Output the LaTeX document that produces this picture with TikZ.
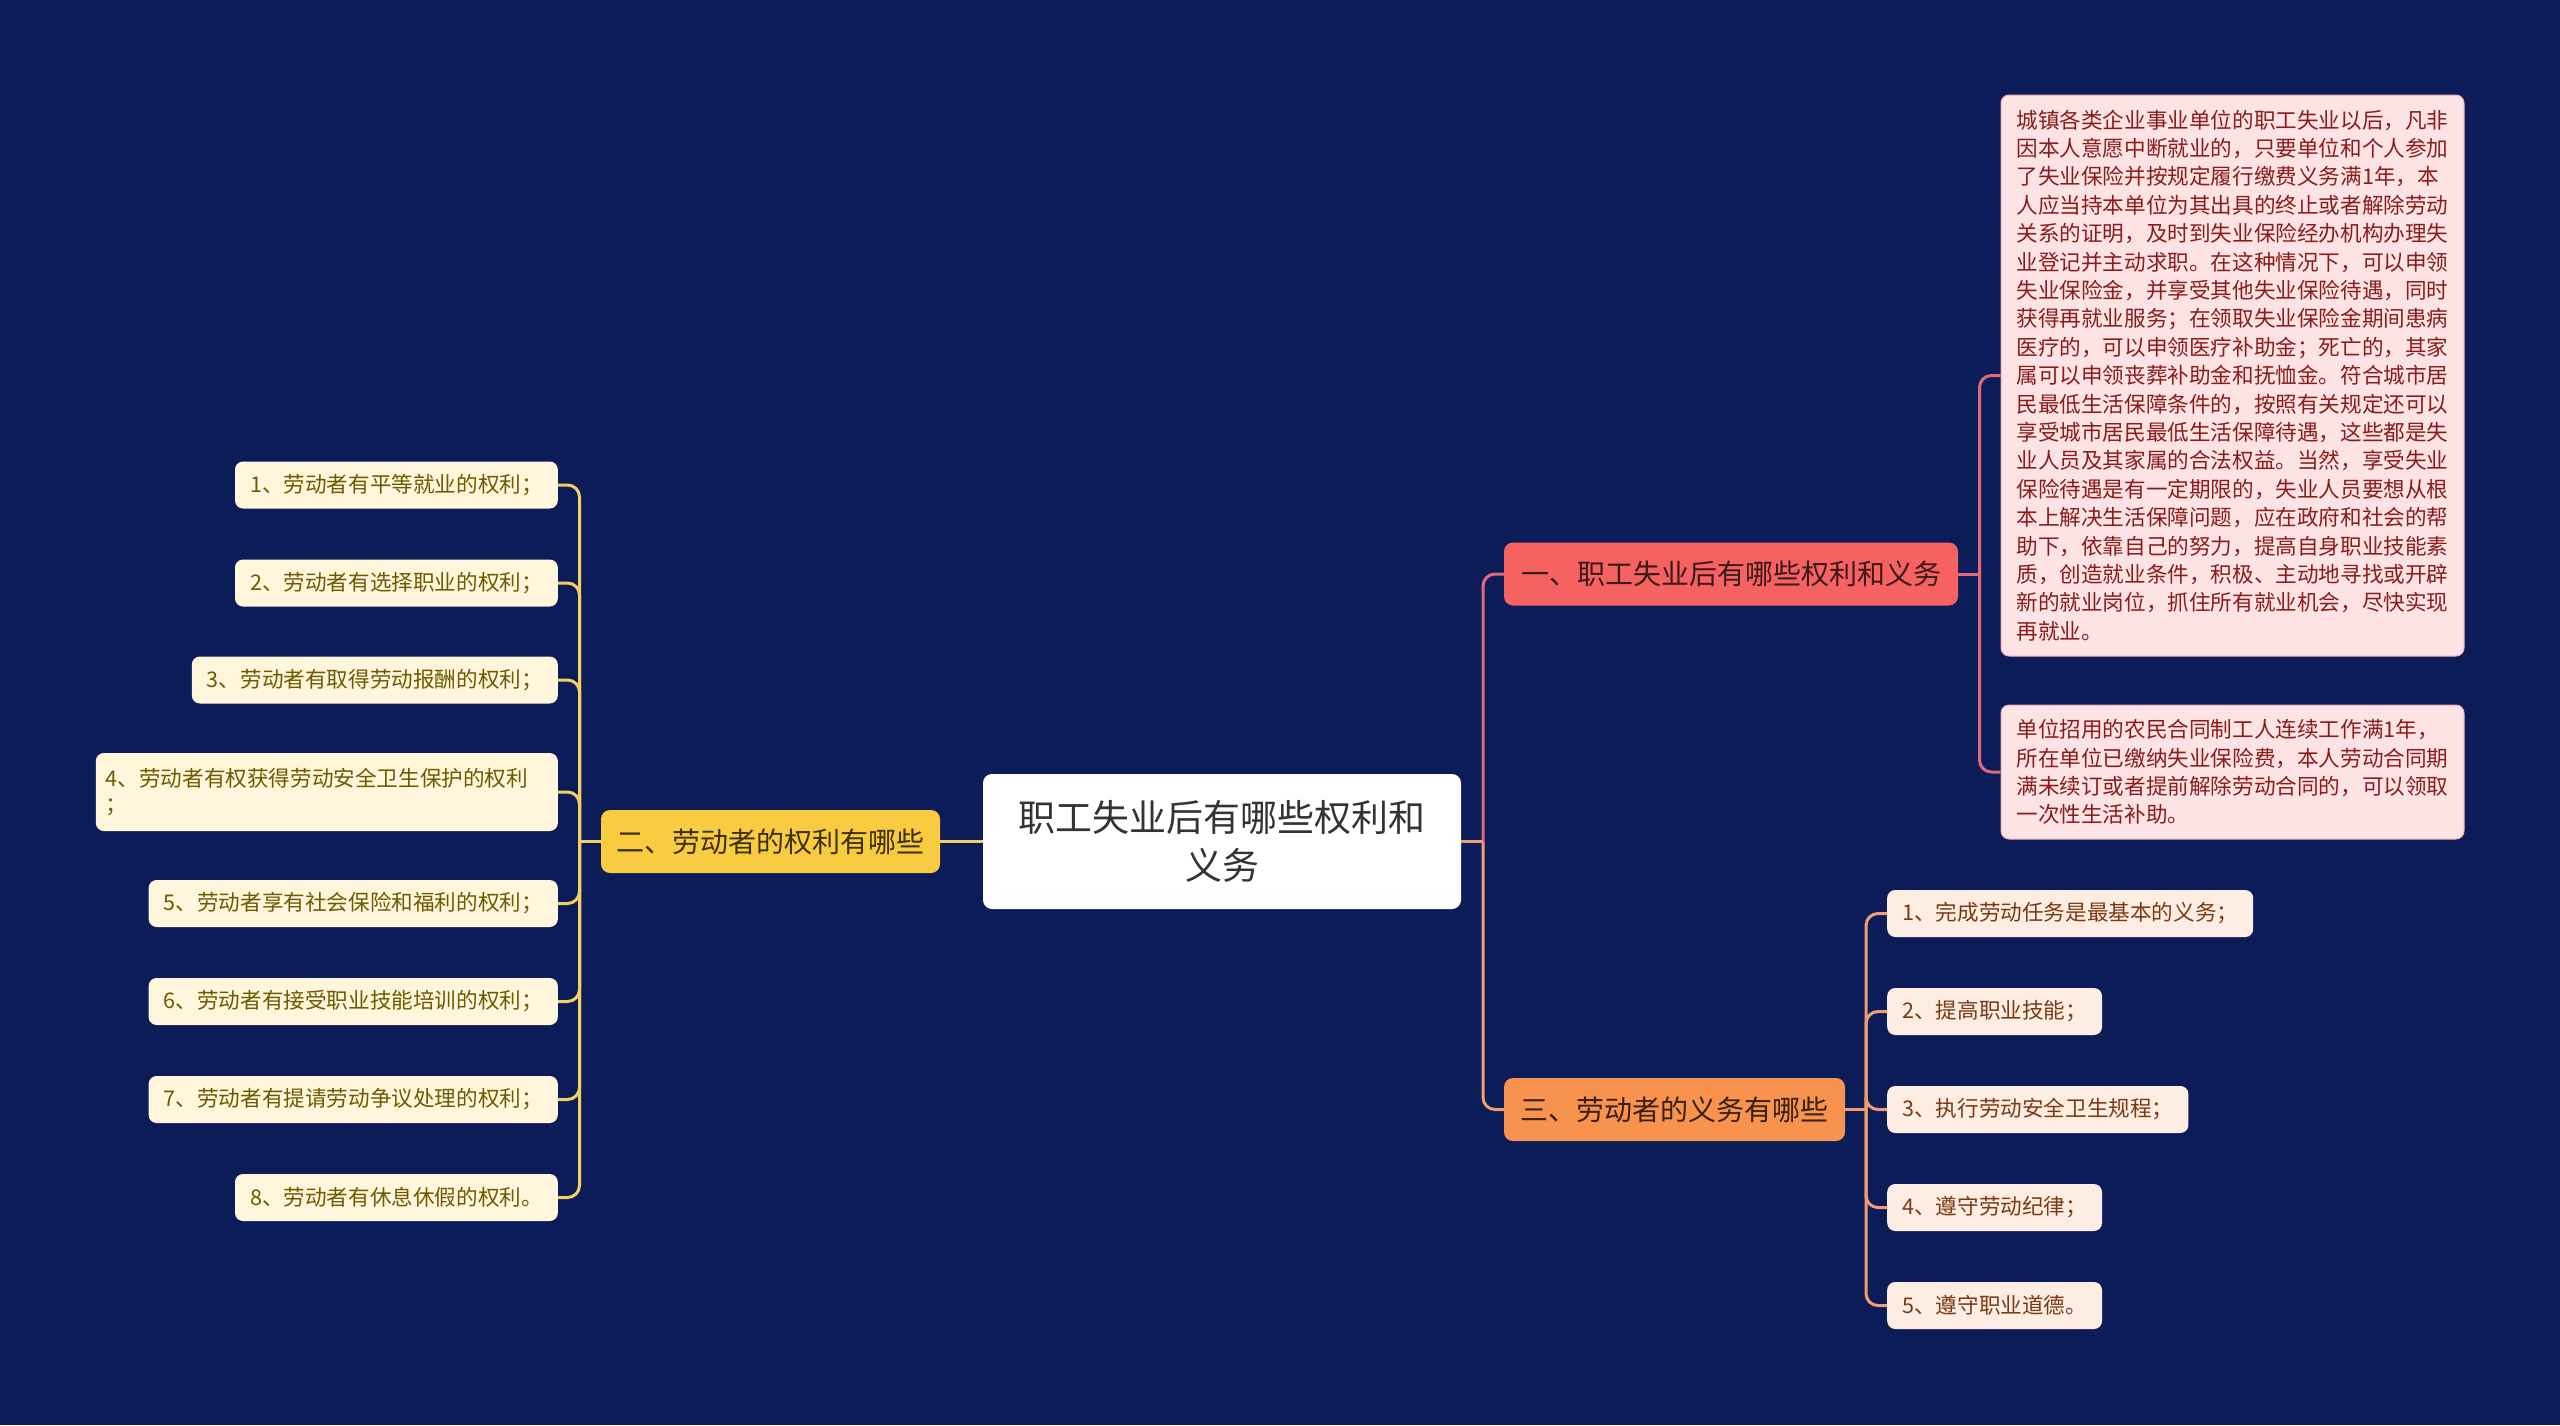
\documentclass[tikz,border=0pt]{standalone}
\usepackage{fontspec}
\setmainfont{Noto Sans CJK SC}
\usetikzlibrary{calc}
\definecolor{bg}{HTML}{0C1C58}
\definecolor{roottxt}{HTML}{333333}
\definecolor{redfill}{HTML}{F66161}
\definecolor{redtxt}{HTML}{3A1A1A}
\definecolor{yelfill}{HTML}{F9CB40}
\definecolor{yeltxt}{HTML}{3D3000}
\definecolor{orafill}{HTML}{F8924F}
\definecolor{oratxt}{HTML}{3A2010}
\definecolor{creamfill}{HTML}{FFF6DB}
\definecolor{creamtxt}{HTML}{6E5A00}
\definecolor{peachfill}{HTML}{FDEDE2}
\definecolor{peachtxt}{HTML}{7B3A14}
\definecolor{pinkfill}{HTML}{FDE3E3}
\definecolor{pinktxt}{HTML}{8A1C1C}
\definecolor{pinkline}{HTML}{E0697A}
\definecolor{yelline}{HTML}{F2D064}
\definecolor{oraline}{HTML}{EE9E6E}
\tikzset{
  rootbox/.style={fill=white, rounded corners=9pt, text=roottxt, align=center,
    minimum width=478pt, minimum height=135pt, inner sep=0pt,
    font=\fontsize{37}{48}\selectfont},
  branchbox/.style={rounded corners=9pt, minimum height=63pt, inner sep=0pt,
    font=\fontsize{28}{34}\selectfont},
  leafl/.style={fill=creamfill, text=creamtxt, rounded corners=8pt, minimum height=47pt,
    inner xsep=15pt, inner ysep=0pt, align=left, font=\fontsize{21.6}{26}\selectfont},
  leafr/.style={fill=peachfill, text=peachtxt, rounded corners=8pt, minimum height=47pt,
    inner xsep=15pt, inner ysep=0pt, align=left, font=\fontsize{21.6}{26}\selectfont},
  notebox/.style={fill=pinkfill, draw=pinkline!45!pinkfill, line width=1pt, text=pinktxt,
    rounded corners=8pt, minimum width=463pt, inner xsep=10pt, inner ysep=0pt,
    align=left, font=\fontsize{21.6}{28.4}\selectfont},
  conn/.style={line width=3pt, rounded corners=12pt},
}
\begin{document}
\begin{tikzpicture}[x=1pt,y=-1pt]
\fill[bg] (0,0) rectangle (2560,1425);
\useasboundingbox (0,0) rectangle (2560,1425);

% root
\node[rootbox] (root) at (1222,841.5) {职工失业后有哪些权利和\\义务};

% branches
\node[branchbox, fill=yelfill, text=yeltxt, minimum width=339pt] (lb) at (770.5,841.5) {二、劳动者的权利有哪些};
\node[branchbox, fill=redfill, text=redtxt, minimum width=454pt] (rb1) at (1731,574) {一、职工失业后有哪些权利和义务};
\node[branchbox, fill=orafill, text=oratxt, minimum width=341pt] (rb3) at (1674.5,1109.5) {三、劳动者的义务有哪些};

% left leaves
\node[leafl, anchor=east] (l1) at (558,485) {1、劳动者有平等就业的权利；};
\node[leafl, anchor=east] (l2) at (558,583) {2、劳动者有选择职业的权利；};
\node[leafl, anchor=east] (l3) at (558,680) {3、劳动者有取得劳动报酬的权利；};
\node[leafl, anchor=east, minimum height=78pt, inner xsep=10pt, text width=442pt] (l4) at (558,792) {4、劳动者有权获得劳动安全卫生保护的权利\\；};
\node[leafl, anchor=east] (l5) at (558,903.5) {5、劳动者享有社会保险和福利的权利；};
\node[leafl, anchor=east] (l6) at (558,1001.5) {6、劳动者有接受职业技能培训的权利；};
\node[leafl, anchor=east] (l7) at (558,1099.5) {7、劳动者有提请劳动争议处理的权利；};
\node[leafl, anchor=east] (l8) at (558,1197.5) {8、劳动者有休息休假的权利。};

% right duty leaves
\node[leafr, anchor=west] (d1) at (1887,913.5) {1、完成劳动任务是最基本的义务；};
\node[leafr, anchor=west] (d2) at (1887,1011.5) {2、提高职业技能；};
\node[leafr, anchor=west] (d3) at (1887,1109.5) {3、执行劳动安全卫生规程；};
\node[leafr, anchor=west] (d4) at (1887,1207.5) {4、遵守劳动纪律；};
\node[leafr, anchor=west] (d5) at (1887,1305.5) {5、遵守职业道德。};

% notes
\node[notebox, minimum height=561pt] (n1) at (2232.5,375.5) {城镇各类企业事业单位的职工失业以后，凡非\\
因本人意愿中断就业的，只要单位和个人参加\\
了失业保险并按规定履行缴费义务满1年，本\\
人应当持本单位为其出具的终止或者解除劳动\\
关系的证明，及时到失业保险经办机构办理失\\
业登记并主动求职。在这种情况下，可以申领\\
失业保险金，并享受其他失业保险待遇，同时\\
获得再就业服务；在领取失业保险金期间患病\\
医疗的，可以申领医疗补助金；死亡的，其家\\
属可以申领丧葬补助金和抚恤金。符合城市居\\
民最低生活保障条件的，按照有关规定还可以\\
享受城市居民最低生活保障待遇，这些都是失\\
业人员及其家属的合法权益。当然，享受失业\\
保险待遇是有一定期限的，失业人员要想从根\\
本上解决生活保障问题，应在政府和社会的帮\\
助下，依靠自己的努力，提高自身职业技能素\\
质，创造就业条件，积极、主动地寻找或开辟\\
新的就业岗位，抓住所有就业机会，尽快实现\\
再就业。};
\node[notebox, minimum height=134pt] (n2) at (2232.5,772) {单位招用的农民合同制工人连续工作满1年，\\
所在单位已缴纳失业保险费，本人劳动合同期\\
满未续订或者提前解除劳动合同的，可以领取\\
一次性生活补助。};

% trunk coordinates
\coordinate (tl) at (579.5,841.5);
\coordinate (tr) at (1483,841.5);
\coordinate (t1) at (1979.5,574);
\coordinate (t3) at (1866,1109.5);

% root to left branch
\draw[conn, yelline] (root.west) -- (lb.east);
\draw[conn, yelline] (lb.west) -- (tl);
\foreach \n in {l1,l2,l3,l4,l5,l6,l7,l8}{
  \draw[conn, yelline] (tl) |- (\n.east);
}

% root to right branches
\draw[conn, pinkline] (tr) |- (rb1.west);
\draw[conn, oraline] (tr) |- (rb3.west);
\draw[conn, oraline] (root.east) -- (tr);

% branch 1 to notes
\draw[conn, pinkline] (rb1.east) -- (t1);
\draw[conn, pinkline] (t1) |- (n1.west);
\draw[conn, pinkline] (t1) |- (n2.west);

% branch 3 to duties
\draw[conn, oraline] (rb3.east) -- (t3);
\foreach \n in {d1,d2,d3,d4,d5}{
  \draw[conn, oraline] (t3) |- (\n.west);
}
\end{tikzpicture}
\end{document}
